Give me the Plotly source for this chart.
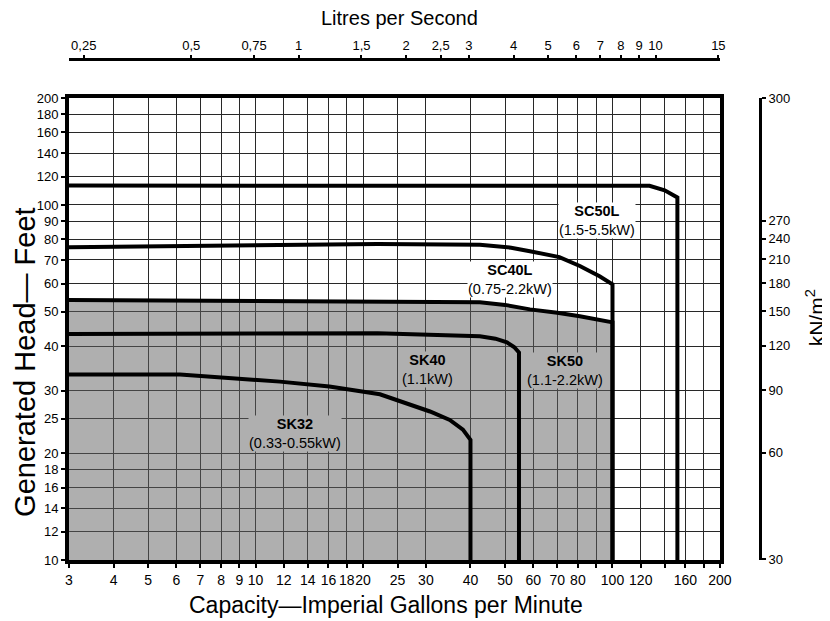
import plotly.graph_objects as go
import math

# ---------------- data ----------------
GPM_PER_LPS = 13.2      # imperial gallons per minute in one litre per second
KN_PER_FT = 2.989       # kN/m^2 per foot of water head

gpm_ticks = [3, 4, 5, 6, 7, 8, 9, 10, 12, 14, 16, 18, 20, 25, 30, 40, 50, 60, 70, 80, 90,
             100, 120, 140, 160, 180, 200]
gpm_labels = ['3', '4', '5', '6', '7', '8', '9', '10', '12', '14', '16', '18', '20', '25', '30',
              '40', '50', '60', '70', '80', '', '100', '120', '', '160', '', '200']
ft_ticks = [10, 12, 14, 16, 18, 20, 25, 30, 40, 50, 60, 70, 80, 90, 100, 120, 140, 160, 180, 200]
lps_ticks = [0.25, 0.5, 0.75, 1, 1.5, 2, 2.5, 3, 4, 5, 6, 7, 8, 9, 10, 15]
lps_labels = ['0,25', '0,5', '0,75', '1', '1,5', '2', '2,5', '3', '4', '5', '6', '7', '8', '9', '10', '15']
kn_ticks = [30, 60, 90, 120, 150, 180, 210, 240, 270, 300]

sc50l_gpm = [3, 20, 60, 110, 127, 140, 152, 152]
sc50l_ft = [113.4, 113.6, 113.8, 113.8, 113.2, 110.0, 105.0, 10]

sc40l_gpm = [3, 10, 22, 42.5, 52, 58.7, 71, 81, 92, 100, 100]
sc40l_ft = [76, 77, 77.6, 77.3, 75.8, 74.1, 71.3, 67.3, 63.0, 59.8, 10]

sk50_gpm = [3, 22, 42.5, 50, 58.7, 70, 81, 100, 100]
sk50_ft = [54, 53.6, 53.2, 52.3, 50.8, 49.7, 48.6, 46.7, 10]

sk40_gpm = [3, 22, 42.5, 47, 50.6, 53, 54.7, 54.7]
sk40_ft = [43.3, 43.5, 42.7, 42.0, 41.0, 39.8, 38.4, 10]

sk32_gpm = [3, 6.14, 11.7, 16.1, 22.3, 30.8, 35, 38.1, 40, 40]
sk32_ft = [33.3, 33.3, 31.8, 30.8, 29.3, 26.2, 24.8, 23.3, 21.8, 10]

label_names = ['SC50L', 'SC40L', 'SK40', 'SK50', 'SK32']
label_power = ['(1.5-5.5kW)', '(0.75-2.2kW)', '(1.1kW)', '(1.1-2.2kW)', '(0.33-0.55kW)']
label_gpm = [90.4, 51.5, 30.4, 73.5, 12.9]
label_ft = [90.7, 61.8, 34.4, 34.2, 22.7]

# ---------------- figure ----------------
FONT = 'Liberation Sans, Arial, sans-serif'
SHADE = 'rgba(95,95,95,0.5)'
SHADE_OPAQUE = 'rgb(175,175,175)'
fig = go.Figure()

# shaded region under SK50
fig.add_trace(go.Scatter(
    x=sk50_gpm + [3], y=sk50_ft + [10], mode='lines', fill='toself',
    fillcolor=SHADE, line=dict(width=0), hoverinfo='skip', showlegend=False))

for gx, fy in [(sc50l_gpm, sc50l_ft), (sc40l_gpm, sc40l_ft), (sk50_gpm, sk50_ft),
               (sk40_gpm, sk40_ft), (sk32_gpm, sk32_ft)]:
    fig.add_trace(go.Scatter(x=gx, y=fy, mode='lines',
                             line=dict(color='black', width=4, shape='linear'),
                             showlegend=False, hoverinfo='skip'))

# hidden traces so overlay axes render
fig.add_trace(go.Scatter(x=[lps_ticks[0]], y=[ft_ticks[0]], xaxis='x2', yaxis='y',
                         mode='markers', marker=dict(opacity=0), showlegend=False, hoverinfo='skip'))
fig.add_trace(go.Scatter(x=[gpm_ticks[0]], y=[kn_ticks[0]], xaxis='x', yaxis='y2',
                         mode='markers', marker=dict(opacity=0), showlegend=False, hoverinfo='skip'))

for name, pw, gx, fy in zip(label_names, label_power, label_gpm, label_ft):
    bg = 'white' if name.startswith('SC') else SHADE_OPAQUE
    fig.add_annotation(x=math.log10(gx), y=math.log10(fy), xref='x', yref='y',
                       text='<b>%s</b><br>%s' % (name, pw), showarrow=False,
                       font=dict(family=FONT, size=14.5, color='black'),
                       bgcolor=bg, borderpad=0)

xmin, xmax = 3, 200
ymin, ymax = 10, 200

common = dict(ticks='outside', tickwidth=1.5, tickcolor='black', zeroline=False,
              automargin=False)

# the page body adds an 8px offset; the figure is sized to compensate
fig.update_layout(
    width=822, height=613,
    margin=dict(l=61, r=70, t=51, b=61, autoexpand=False),
    paper_bgcolor='white', plot_bgcolor='white',
    font=dict(family=FONT, size=13, color='black'),
    xaxis=dict(type='log', range=[math.log10(xmin), math.log10(xmax)], domain=[0, 0.942],
               tickvals=gpm_ticks, ticktext=gpm_labels, ticklen=4, tickangle=0,
               tickfont=dict(size=14, family=FONT, color='black'),
               showgrid=True, gridcolor='rgb(40,40,40)', gridwidth=1,
               showline=True, linecolor='black', linewidth=4, mirror=True, **common),
    yaxis=dict(type='log', range=[math.log10(ymin), math.log10(ymax)], domain=[0, 0.922],
               tickvals=ft_ticks, ticktext=[str(v) for v in ft_ticks], ticklen=4,
               tickfont=dict(size=13, family=FONT, color='black'),
               showgrid=True, gridcolor='rgb(40,40,40)', gridwidth=1,
               showline=True, linecolor='black', linewidth=4, mirror=True, **common),
    xaxis2=dict(type='log', overlaying='x', side='top', anchor='free', position=1.0,
                range=[math.log10(xmin / GPM_PER_LPS), math.log10(xmax / GPM_PER_LPS)],
                tickvals=lps_ticks, ticktext=lps_labels, ticklen=3, tickangle=0, showgrid=False,
                tickfont=dict(size=13, family=FONT, color='black'),
                showline=True, linecolor='black', linewidth=3, **common),
    yaxis2=dict(type='log', overlaying='y', side='right', anchor='free', position=1.0,
                range=[math.log10(ymin * KN_PER_FT), math.log10(ymax * KN_PER_FT)],
                tickvals=kn_ticks[:-1] + [ymax * KN_PER_FT], ticktext=[str(v) for v in kn_ticks],
                ticklen=4, showgrid=False,
                tickfont=dict(size=13, family=FONT, color='black'),
                showline=True, linecolor='black', linewidth=3, **common),
)

# axis titles
fig.add_annotation(text='Litres per Second', xref='paper', yref='paper', x=0.478, y=1.082,
                   xanchor='center', yanchor='middle',
                   showarrow=False, font=dict(size=20, family=FONT))
fig.add_annotation(text='Capacity\u2014Imperial Gallons per Minute', xref='paper', yref='paper',
                   x=0.459, y=-0.09, xanchor='center', yanchor='middle',
                   showarrow=False, font=dict(size=23, family=FONT))
fig.add_annotation(text='Generated Head\u2014 Feet', xref='paper', yref='paper', x=-0.064, y=0.395,
                   xanchor='center', yanchor='middle',
                   textangle=-90, showarrow=False, font=dict(size=29, family=FONT))
fig.add_annotation(text='kN/m<sup>2</sup>', xref='paper', yref='paper', x=1.08, y=0.483,
                   xanchor='center', yanchor='middle',
                   textangle=-90, showarrow=False, font=dict(size=21, family=FONT))

fig.write_html('out.html')
